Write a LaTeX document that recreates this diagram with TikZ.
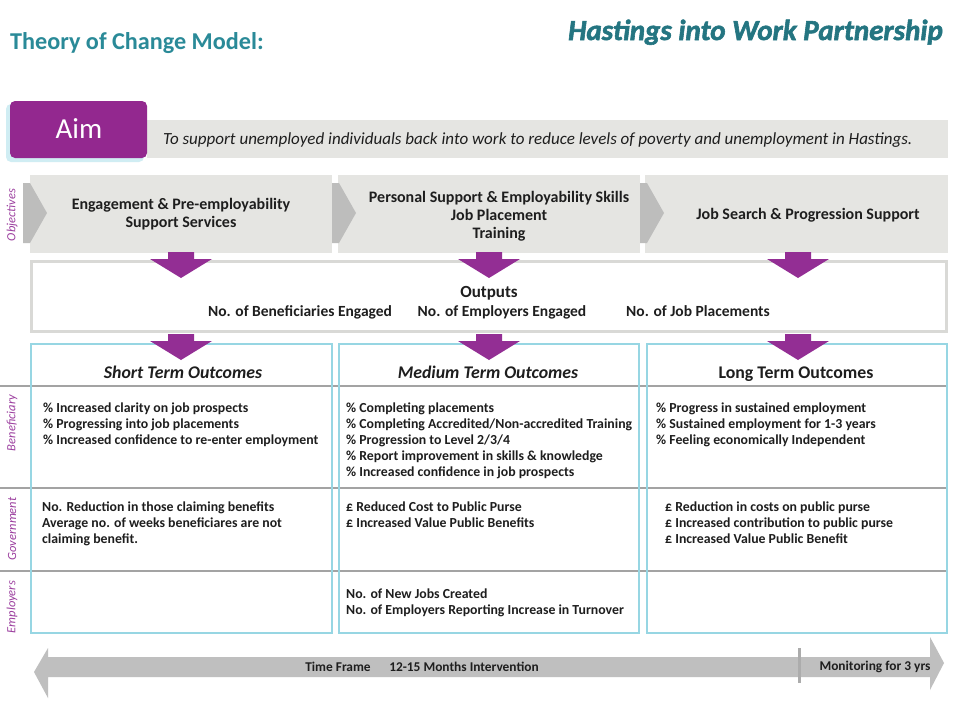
\documentclass[tikz,border=0pt]{standalone}
\usepackage{fontspec}
\setmainfont{Carlito}
\newfontfamily\brandfont[ItalicFeatures={FakeBold=2},BoldItalicFeatures={FakeBold=2}]{Carlito}
\definecolor{teal}{HTML}{2A8A98}
\definecolor{aimpurple}{HTML}{93288F}
\definecolor{arrowpurple}{HTML}{932E94}
\definecolor{labpurple}{HTML}{9C3F9F}
\definecolor{banner}{HTML}{E5E5E2}
\definecolor{chev}{HTML}{BDBDBC}
\definecolor{outbord}{HTML}{D9D9D6}
\definecolor{colblue}{HTML}{97D6E3}
\definecolor{rowgray}{HTML}{A3A3A3}
\definecolor{tline}{HTML}{BFBFBF}
\definecolor{txt}{HTML}{1E1E1E}
\begin{document}
\begin{tikzpicture}[x=1pt,y=-1pt,
  celltext/.style={anchor=north west,inner sep=0pt,align=left,text=txt,font=\fontsize{13.8}{16}\selectfont\bfseries},
  objtext/.style={inner sep=0pt,align=center,text=txt,font=\fontsize{16}{18}\selectfont\bfseries},
  sidelabel/.style={rotate=90,inner sep=0pt,text=labpurple,font=\fontsize{12.5}{14}\selectfont\itshape},
  headtext/.style={anchor=base,inner sep=0pt,text=txt,font=\fontsize{17.8}{20}\selectfont\bfseries\itshape},
  outtext/.style={anchor=base,inner sep=0pt,text=txt,font=\fontsize{15.5}{18}\selectfont\bfseries},
  timetext/.style={anchor=base,inner sep=0pt,text=txt,font=\fontsize{13.4}{15}\selectfont\bfseries},
  colbox/.style={draw=colblue,line width=1.8pt},
  purplearrow/.pic={\fill[arrowpurple] (-13,0) -- (13,0) -- (13,7) -- (31,7) -- (0,26) -- (-31,7) -- (-13,7) -- cycle;},
  chevron/.pic={\fill[chev] (0,8) -- (7,8) -- (24,38) -- (7,68) -- (0,68) -- cycle;}
]
\useasboundingbox (0,0) rectangle (960,720);
\fill[white] (0,0) rectangle (960,720);

% titles
\node[anchor=base west,inner sep=0pt,text=teal,font=\fontsize{24.2}{28}\selectfont\bfseries] (title) at (10,49) {Theory of Change Model:};
\node[anchor=base east,inner sep=0pt,text=teal!85!black,font=\fontsize{29}{32}\selectfont\brandfont\bfseries\itshape] (brand) at (943,40) {Hastings into Work Partnership};

% aim
\fill[banner] (147,120) rectangle (948,158);
\fill[colblue!45,rounded corners=5pt] (6,104) rectangle (144,162);
\fill[aimpurple,rounded corners=5pt] (10,101) rectangle (147,158);
\node[anchor=base,inner sep=0pt,text=white,font=\fontsize{29}{31}\selectfont] (aim) at (79,138) {Aim};
\node[anchor=base west,inner sep=0pt,text=txt,font=\fontsize{17}{20}\selectfont\itshape] (aimtext) at (163,144) {To support unemployed individuals back into work to reduce levels of poverty and unemployment in Hastings.};

% objectives
\fill[banner] (30,175) rectangle (332,253);
\fill[banner] (338,175) rectangle (640,253);
\fill[banner] (645,175) rectangle (948,253);
\pic at (23,175) {chevron};
\pic at (332,175) {chevron};
\pic at (640,175) {chevron};
\node[objtext] (obj1) at (181,214) {Engagement \& Pre-employability\\Support Services};
\node[objtext] (obj2) at (499,216) {Personal Support \& Employability Skills\\Job Placement\\Training};
\node[objtext] (obj3) at (808,215) {Job Search \& Progression Support};
\node[sidelabel] (lobj) at (12,215) {Objectives};

% outputs
\draw[outbord,line width=3pt,fill=white] (31.5,261.5) rectangle (946.5,331.5);
\node[anchor=base,inner sep=0pt,text=txt,font=\fontsize{17}{20}\selectfont\bfseries] (outputs) at (489,297) {Outputs};
\node[outtext] (out1) at (300,316) {No. of Beneficiaries Engaged};
\node[outtext] (out2) at (502,316) {No. of Employers Engaged};
\node[outtext] (out3) at (698,316) {No. of Job Placements};

% outcome grid
\foreach \yy in {386,488,571} {\draw[rowgray,line width=2pt] (0,\yy) -- (948,\yy);}
\draw[colbox] (31,344) rectangle (332,633);
\draw[colbox] (339,344) rectangle (639,633);
\draw[colbox] (647,344) rectangle (947,633);

\node[headtext] (h1) at (183,378) {Short Term Outcomes};
\node[headtext] (h2) at (488,378) {Medium Term Outcomes};
\node[headtext,font=\fontsize{17.8}{20}\selectfont\bfseries] (h3) at (796,378) {Long Term Outcomes};

\node[sidelabel] (lben) at (12,423) {Beneficiary};
\node[sidelabel] (lgov) at (12,529) {Government};
\node[sidelabel] (lemp) at (12,607) {Employers};

\node[celltext] (b1) at (43,403) {\% Increased clarity on job prospects\\\% Progressing into job placements\\\% Increased confidence to re-enter employment};
\node[celltext] (b2) at (346,403) {\% Completing placements\\\% Completing Accredited/Non-accredited Training\\\% Progression to Level 2/3/4\\\% Report improvement in skills \& knowledge\\\% Increased confidence in job prospects};
\node[celltext] (b3) at (656,403) {\% Progress in sustained employment\\\% Sustained employment for 1-3 years\\\% Feeling economically Independent};
\node[celltext] (g1) at (42,502) {No. Reduction in those claiming benefits\\Average no. of weeks beneficiares are not\\claiming benefit.};
\node[celltext] (g2) at (346,502) {£ Reduced Cost to Public Purse\\£ Increased Value Public Benefits};
\node[celltext] (g3) at (665,502) {£ Reduction in costs on public purse\\£ Increased contribution to public purse\\£ Increased Value Public Benefit};
\node[celltext] (e2) at (346,589) {No. of New Jobs Created\\No. of Employers Reporting Increase in Turnover};

% purple arrows
\pic at (181,252) {purplearrow};
\pic at (489,252) {purplearrow};
\pic at (798,252) {purplearrow};
\pic at (181,334) {purplearrow};
\pic at (489,334) {purplearrow};
\pic at (798,334) {purplearrow};

% timeline
\fill[tline] (34,672) -- (48,648) -- (48,657) -- (930,657) -- (930,637) -- (944,663) -- (930,690) -- (930,677) -- (48,677) -- (48,698) -- cycle;
\draw[rowgray!90,line width=3pt] (799,648) -- (799,683);
\node[timetext] (tf) at (338,671) {Time Frame};
\node[timetext] (tm) at (464,671) {12-15 Months Intervention};
\node[timetext] (mon) at (875,670) {Monitoring for 3 yrs};
\end{tikzpicture}
\end{document}
